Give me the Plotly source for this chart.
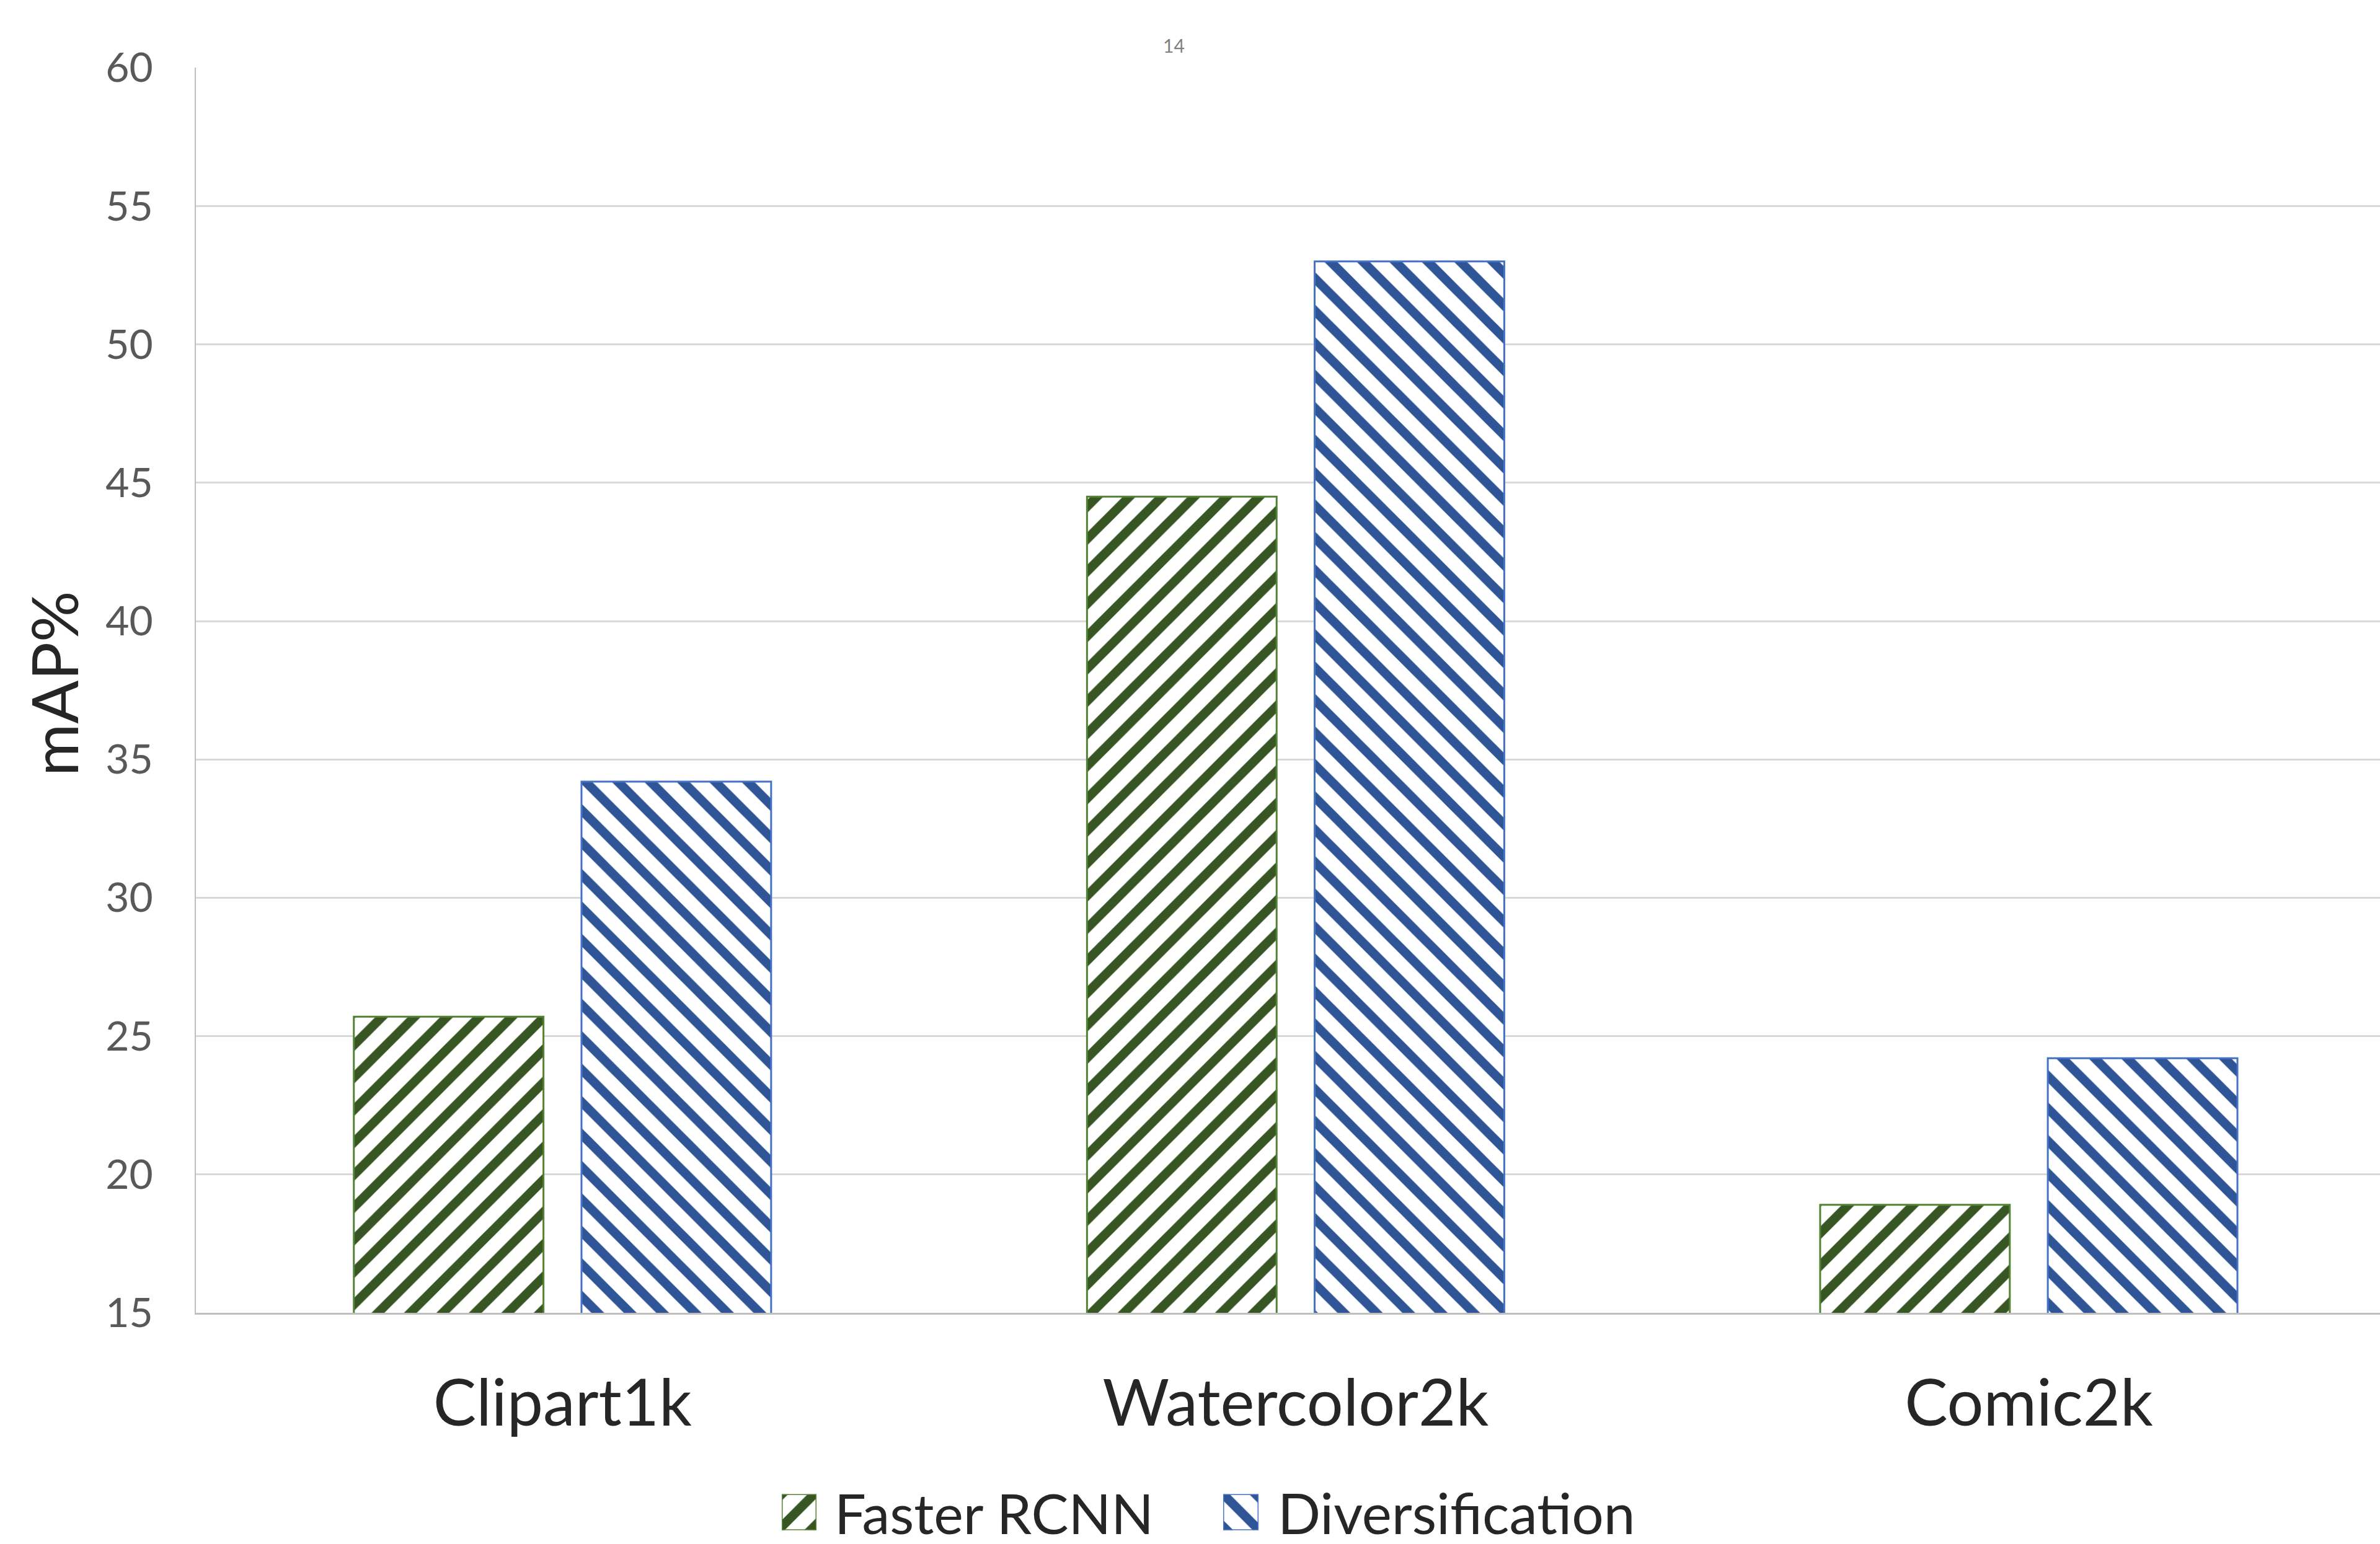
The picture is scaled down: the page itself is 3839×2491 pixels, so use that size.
import plotly.graph_objects as go

# ---- data ----
categories = ["Clipart1k", "Watercolor2k", "Comic2k"]
series_names = ["Faster RCNN", "Diversification"]
faster_rcnn = [25.7, 44.5, 18.9]
diversification = [34.2, 53.0, 24.2]
y_ticks = [15, 20, 25, 30, 35, 40, 45, 50, 55, 60]
y_title = "mAP%"
page_label = "14"

# ---- styling ----
W = 3839
H = 2560                 # layout height (px); positions below are layout px from the top
FONT = "Lato"
GREEN_LINE, GREEN_HATCH = "#548235", "#375623"
BLUE_LINE, BLUE_HATCH = "#4472C4", "#2F5597"
TEXT_DARK = "#262626"
HATCH_SIZE = 37
HATCH_SOLIDITY = 0.4


def fx(p):
    return p / W


def fy(p):
    return 1 - p / H


def marker(line_col, hatch_col, shape):
    return dict(
        color="white",
        line=dict(color=line_col, width=3),
        pattern=dict(shape=shape, fgcolor=hatch_col, fgopacity=1, bgcolor="white",
                     size=HATCH_SIZE, solidity=HATCH_SOLIDITY, fillmode="overlay"),
    )


styles = [(GREEN_LINE, GREEN_HATCH, "/"), (BLUE_LINE, BLUE_HATCH, "\\")]
values = [faster_rcnn, diversification]

fig = go.Figure()
for name, vals, st in zip(series_names, values, styles):
    fig.add_trace(go.Bar(name=name, x=categories, y=vals, marker=marker(*st),
                         showlegend=False, hoverinfo="x+y+name"))

# custom legend swatches (one tiny subplot per series)
swatch_axes = [("x2", "y2"), ("x3", "y3")]
for name, st, (xa, ya) in zip(series_names, styles, swatch_axes):
    fig.add_trace(go.Bar(name=name, x=[name], y=[1], width=[1], marker=marker(*st),
                         xaxis=xa, yaxis=ya, showlegend=False, hoverinfo="name"))

plot_left, plot_top, plot_bottom = 316, 69.5, 2142
cat_px = 1182.6
legend_mid = 2474
swatch_half = 30

fig.update_layout(
    width=W, height=H,
    margin=dict(l=0, r=0, t=0, b=0),
    paper_bgcolor="white", plot_bgcolor="white",
    font=dict(family=FONT, color=TEXT_DARK),
    barmode="group", bargap=0.379, bargroupgap=0.167,
    showlegend=False,
    xaxis=dict(
        domain=[fx(plot_left), 1], type="category",
        range=[-0.5, -0.5 + (W - plot_left) / cat_px],
        showline=True, linecolor="#bfbfbf", linewidth=3,
        showgrid=False, zeroline=False, ticks="",
        tickfont=dict(family=FONT, size=104, color=TEXT_DARK),
        ticklabelstandoff=54,
    ),
    yaxis=dict(
        domain=[fy(plot_bottom), fy(plot_top)], range=[15, 60],
        tickvals=y_ticks, ticktext=[str(v) for v in y_ticks],
        showgrid=True, gridcolor="#d9d9d9", gridwidth=3,
        showline=True, linecolor="#bfbfbf", linewidth=2,
        zeroline=False, ticks="",
        tickfont=dict(family=FONT, size=66, color="#595959"),
        ticklabelstandoff=54, ticklabeloverflow="allow",
    ),
    xaxis2=dict(domain=[fx(1261), fx(1317)], range=[-0.5, 0.5], visible=False,
                anchor="y2", fixedrange=True),
    yaxis2=dict(domain=[fy(legend_mid + swatch_half), fy(legend_mid - swatch_half)],
                range=[0, 1], visible=False, anchor="x2", fixedrange=True),
    xaxis3=dict(domain=[fx(1973), fx(2030)], range=[-0.5, 0.5], visible=False,
                anchor="y3", fixedrange=True),
    yaxis3=dict(domain=[fy(legend_mid + swatch_half), fy(legend_mid - swatch_half)],
                range=[0, 1], visible=False, anchor="x3", fixedrange=True),
    annotations=[
        dict(text=y_title, x=fx(86), y=fy(1095), xref="paper", yref="paper",
             textangle=-90, showarrow=False, xanchor="center", yanchor="middle",
             font=dict(family=FONT, size=103, color=TEXT_DARK)),
        dict(text=series_names[0], x=fx(1344), y=fy(legend_mid), xref="paper", yref="paper",
             showarrow=False, xanchor="left", yanchor="middle",
             font=dict(family=FONT, size=90, color=TEXT_DARK)),
        dict(text=series_names[1], x=fx(2059), y=fy(legend_mid), xref="paper", yref="paper",
             showarrow=False, xanchor="left", yanchor="middle",
             font=dict(family=FONT, size=91, color=TEXT_DARK)),
        dict(text=page_label, x=fx(1893), y=fy(32), xref="paper", yref="paper",
             showarrow=False, xanchor="center", yanchor="middle",
             font=dict(family=FONT, size=30, color="#7f7f7f")),
    ],
)

fig.write_html(
    "out.html",
    config={"displayModeBar": False},
    post_script="document.body.style.margin='0px';document.body.style.overflow='hidden';",
)
